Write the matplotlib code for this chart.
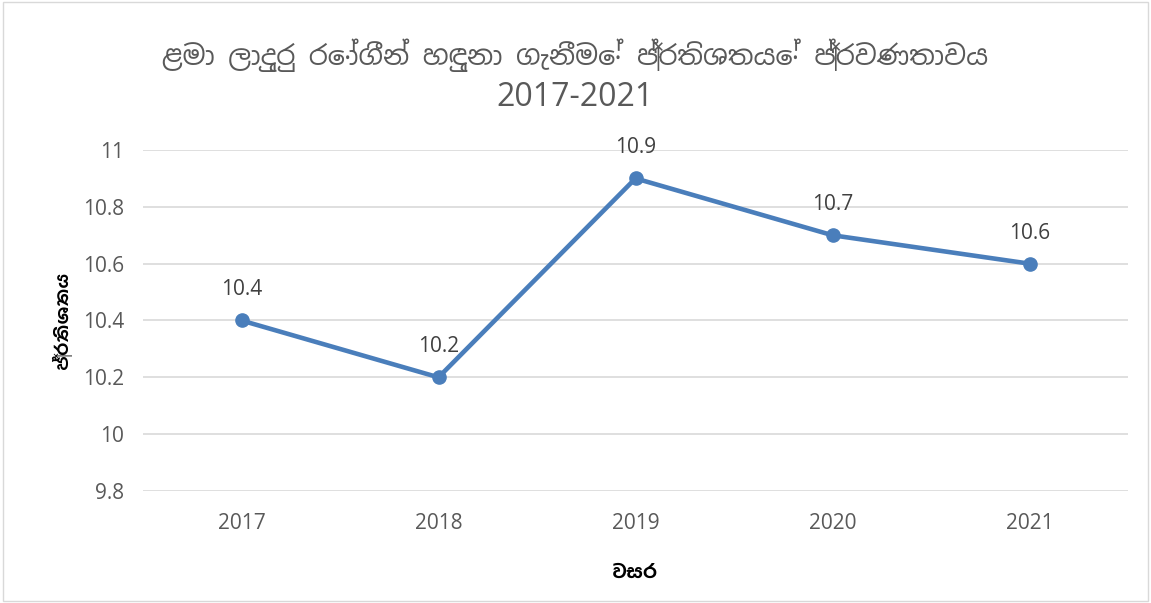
import matplotlib
matplotlib.use("Agg")
import matplotlib.pyplot as plt

years = ["2017", "2018", "2019", "2020", "2021"]
values = [10.4, 10.2, 10.9, 10.7, 10.6]
yticks = [9.8, 10, 10.2, 10.4, 10.6, 10.8, 11]
ytick_labels = ["9.8", "10", "10.2", "10.4", "10.6", "10.8", "11"]
title_line1 = "ළමා ලාදුරු රෝගීන් හඳුනා ගැනීමේ ප්‍රතිශතයේ ප්‍රවණතාවය"
title_line2 = "2017-2021"
xlabel_text = "වසර"
ylabel_text = "ප්‍රතිශතය"

sinhala = ["Noto Sans Sinhala", "Open Sans", "DejaVu Sans"]
sinhala_bold = ["Hind Colombo", "Noto Sans Sinhala", "DejaVu Sans"]
latin = ["Open Sans", "DejaVu Sans"]
plt.rcParams["font.family"] = latin

text_color = "#595959"
line_color = "#4A7EBB"

fig = plt.figure(figsize=(11.51, 6.03), dpi=100)
ax = fig.add_axes([143/1151, 1 - 491/603, (1128-143)/1151, (491-150)/603])

x = list(range(len(years)))
ax.plot(x, values, color=line_color, lw=3.3, marker="o", ms=9.5,
        markerfacecolor=line_color, markeredgecolor=line_color,
        solid_capstyle="round", solid_joinstyle="round", zorder=3)
for xi, v in zip(x, values):
    ax.annotate(f"{v}", (xi, v), xytext=(0, 14.5), textcoords="offset points",
                ha="center", va="bottom", fontsize=15, color="#404040")

ax.set_xlim(-0.5, len(years) - 0.5)
ax.set_ylim(9.8, 11)
ax.set_yticks(yticks)
ax.set_yticklabels(ytick_labels)
ax.set_xticks(x)
ax.set_xticklabels(years)
ax.tick_params(axis="both", length=0, labelsize=15, colors=text_color)
ax.tick_params(axis="y", pad=13.5)
ax.tick_params(axis="x", pad=16)
ax.grid(axis="y", color="#D9D9D9", lw=1.2)
ax.set_axisbelow(True)
for s in ax.spines.values():
    s.set_visible(False)

ax.set_xlabel(xlabel_text, fontsize=14, fontweight="bold", color="black",
              labelpad=21, family=sinhala_bold)
ax.set_ylabel(ylabel_text, fontsize=13, fontweight="bold", color="black",
              labelpad=8, family=sinhala_bold)

fig.text(0.5, 1 - 55/603, title_line1, ha="center", va="center", fontsize=19.5,
         color=text_color, family=sinhala)
fig.text(0.5, 1 - 97/603, title_line2, ha="center", va="center", fontsize=23,
         color=text_color, family=latin)

border = plt.Rectangle((0.003, 0.003), 0.994, 0.994, transform=fig.transFigure,
                       fill=False, edgecolor="#D9D9D9", lw=1)
fig.patches.append(border)

fig.savefig("out.png", dpi=100)
